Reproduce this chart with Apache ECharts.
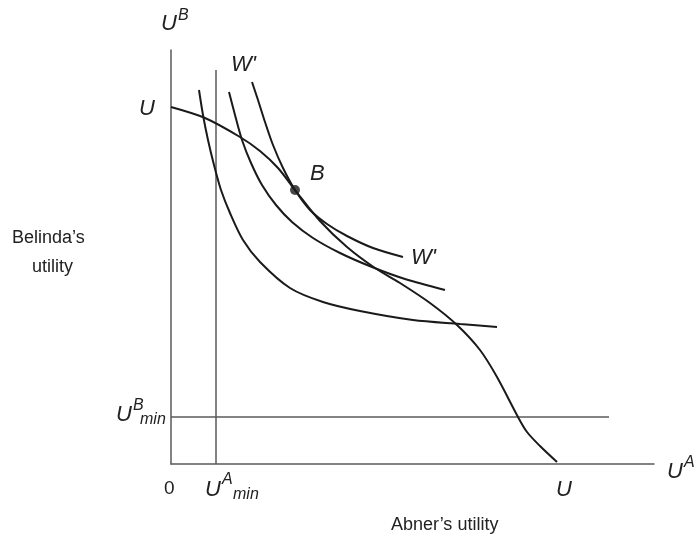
<!DOCTYPE html>
<html><head><meta charset="utf-8">
<script src="https://cdn.jsdelivr.net/npm/echarts@6/dist/echarts.min.js"></script>
<style>html,body{margin:0;padding:0;background:#fff}#c{width:696px;height:541px}</style>
</head><body><div id="c"></div>
<script>
// Utility possibility frontier U–U (Abner's utility, Belinda's utility)
const frontierUU = [[0,357],[34,346],[69,327],[89,313],[107,296],[124,274],[149,243],[176,217],[204,196],[229,181],[259,161],[286,139],[309,114],[326,87],[347,47],[356,32],[369,18],[386,2]];
// Social indifference curves
const curveInner = [[28,374],[32,349],[37,324],[43,299],[50,274],[59,251],[72,224],[89,202],[119,176],[152,162],[189,153],[242,144],[289,140],[326,137]];
const curveMiddle = [[58,372],[64,349],[71,324],[80,301],[91,279],[105,259],[121,242],[142,226],[169,211],[201,197],[234,185],[274,174]];
const curveWprime = [[81,382],[87,364],[94,342],[102,319],[112,296],[124,274],[139,254],[156,240],[176,228],[202,216],[232,207]];
const pointB = [[124,274]];
const uAmin = 45, uBmin = 47;
const uAminLine = [[uAmin,0],[uAmin,394]];
const uBminLine = [[0,uBmin],[438,uBmin]];

const chart = echarts.init(document.getElementById('c'));
const black = '#1a1a1a', grey = '#5a5a5a';
function line(data, color, w){ return {type:'line', data, smooth:0.3, showSymbol:false, symbol:'none', lineStyle:{color, width:w}, silent:true, z:3}; }
const uStyle = {fontFamily:'"Liberation Sans", Arial, sans-serif', fontStyle:'italic', fontSize:22, fill:'#222'};
function t(x,y,text,extra){ return {type:'text', left:x, top:y, style:Object.assign({text}, uStyle, extra||{})}; }
chart.setOption({
  animation:false,
  grid:{left:171, top:50, width:483, height:414},
  xAxis:{type:'value', min:0, max:483, axisLine:{show:true, lineStyle:{color:grey, width:1.5}}, axisTick:{show:false}, axisLabel:{show:false}, splitLine:{show:false}},
  yAxis:{type:'value', min:0, max:414, axisLine:{show:true, lineStyle:{color:grey, width:1.5}}, axisTick:{show:false}, axisLabel:{show:false}, splitLine:{show:false}},
  series:[
    {type:'line', data:uAminLine, showSymbol:false, symbol:'none', lineStyle:{color:grey, width:1.5}, silent:true},
    {type:'line', data:uBminLine, showSymbol:false, symbol:'none', lineStyle:{color:grey, width:1.5}, silent:true},
    line(frontierUU, black, 2),
    line(curveInner, black, 2),
    line(curveMiddle, black, 2),
    line(curveWprime, black, 2),
    {type:'scatter', data:pointB, symbolSize:10, itemStyle:{color:black}, z:5, silent:true}
  ],
  graphic:[
    t(161,13,'U'), t(178,8,'B',{fontSize:16}),
    t(231,54,"W'"),
    t(139,98,'U'),
    t(310,163,'B'),
    t(411,247,"W'"),
    t(556,479,'U'),
    t(667,461,'U'), t(684,455,'A',{fontSize:16}),
    t(205,479,'U'), t(222,472,'A',{fontSize:16}), t(233,487,'min',{fontSize:16}),
    t(116,404,'U'), t(133,398,'B',{fontSize:16}), t(140,412,'min',{fontSize:16}),
    {type:'text', left:164, top:479, style:{text:'0', fontFamily:'"Liberation Sans", Arial, sans-serif', fontSize:19, fill:'#222'}},
    {type:'text', left:12, top:229, style:{text:'Belinda’s', fontFamily:'"Liberation Sans", Arial, sans-serif', fontSize:18, fill:'#222'}},
    {type:'text', left:32, top:258, style:{text:'utility', fontFamily:'"Liberation Sans", Arial, sans-serif', fontSize:18, fill:'#222'}},
    {type:'text', left:391, top:516, style:{text:'Abner’s utility', fontFamily:'"Liberation Sans", Arial, sans-serif', fontSize:18, fill:'#222'}}
  ]
});
</script></body></html>
